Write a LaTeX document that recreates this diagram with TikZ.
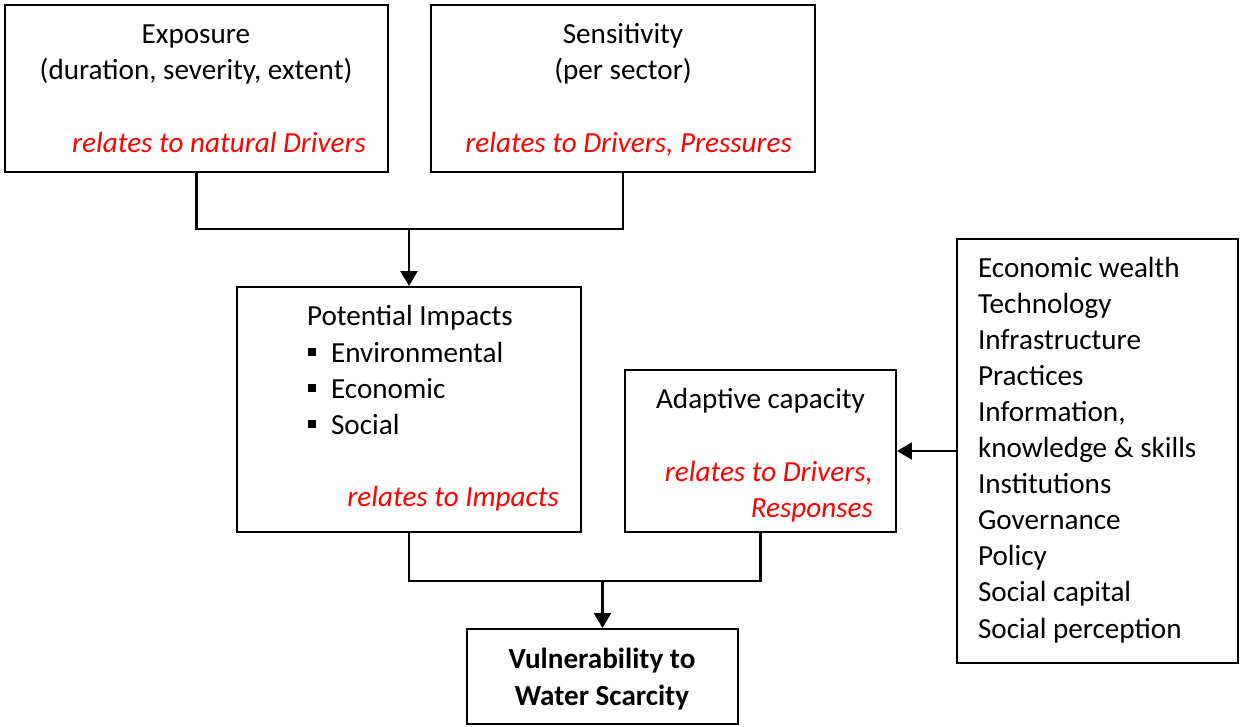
\documentclass[tikz,border=0pt]{standalone}
\usepackage{fontspec}
\setmainfont{Carlito}
\usepackage{tikz}
\usetikzlibrary{arrows.meta, fit, positioning}

\begin{document}
\begin{tikzpicture}[x=0.47pt,y=-0.47pt,line width=1pt,>={Triangle[length=7pt,width=8pt]}]
  \tikzstyle{every node}=[font=\fontsize{13.7}{17}\selectfont, inner sep=0pt]
  \tikzstyle{box}=[draw, inner sep=0pt]
  \tikzstyle{title}=[anchor=base]
  \tikzstyle{item}=[anchor=base west]
  \tikzstyle{note}=[anchor=base east, text=red, font=\fontsize{13.7}{17}\selectfont\itshape]
  \tikzstyle{bullet}=[fill, minimum size=3.8pt, inner sep=0pt]

  \useasboundingbox (0,0) rectangle (1240,726);

  % boxes
  \node[box, fit={(5,5) (388,172)}]      (exposure)    {};
  \node[box, fit={(431,5) (815,172)}]    (sensitivity) {};
  \node[box, fit={(237,287) (581,532)}]  (impacts)     {};
  \node[box, fit={(625,370) (896,532)}]  (adaptive)    {};
  \node[box, fit={(467,629) (738,724)}]  (vulner)      {};
  \node[box, fit={(957,239) (1238,663)}] (factors)     {};

  % texts
  \node[title] (exposure_t)    at (196,43)  {Exposure};
  \node[title] (exposure_s)    at (196,79)  {(duration, severity, extent)};
  \node[note]  (exposure_n)    at (367,152) {relates to natural Drivers};

  \node[title] (sensitivity_t) at (623,43)  {Sensitivity};
  \node[title] (sensitivity_s) at (623,79)  {(per sector)};
  \node[note]  (sensitivity_n) at (793,152) {relates to Drivers, Pressures};

  \node[item]  (impacts_t)     at (306,325) {Potential Impacts};
  \node[bullet] (b_1) at (312,352) {};
  \node[bullet] (b_2) at (312,388) {};
  \node[bullet] (b_3) at (312,424) {};
  \node[item]  (impacts_1)     at (330,362) {Environmental};
  \node[item]  (impacts_2)     at (330,398) {Economic};
  \node[item]  (impacts_3)     at (330,434) {Social};
  \node[note]  (impacts_n)     at (560,506) {relates to Impacts};

  \node[item]  (adaptive_t)    at (655,408) {Adaptive capacity};
  \node[note]  (adaptive_n1)   at (874,481) {relates to Drivers,};
  \node[note]  (adaptive_n2)   at (874,517) {Responses};

  \node[title] (vulner_1)      at (602,668) {\bfseries Vulnerability to};
  \node[title] (vulner_2)      at (602,705) {\bfseries Water Scarcity};

  \foreach \txt [count=\i from 0] in {Economic wealth, Technology, Infrastructure,
      Practices, {Information,}, knowledge \& skills, Institutions, Governance,
      Policy, Social capital, Social perception}
    \node[item] (f_\i) at (977,{277+36.1*\i}) {\txt};

  % connectors
  \coordinate (top_join)    at (impacts.north |- 0,229);
  \coordinate (bottom_join) at (vulner.north |- 0,581);

  \draw (exposure.south) |- (top_join) -| (sensitivity.south);
  \draw[->] (top_join) -- (impacts.north);
  \draw (impacts.south) |- (bottom_join) -| (adaptive.south);
  \draw[->] (bottom_join) -- (vulner.north);
  \draw[->] (factors.west) -- (adaptive.east);
\end{tikzpicture}
\end{document}
